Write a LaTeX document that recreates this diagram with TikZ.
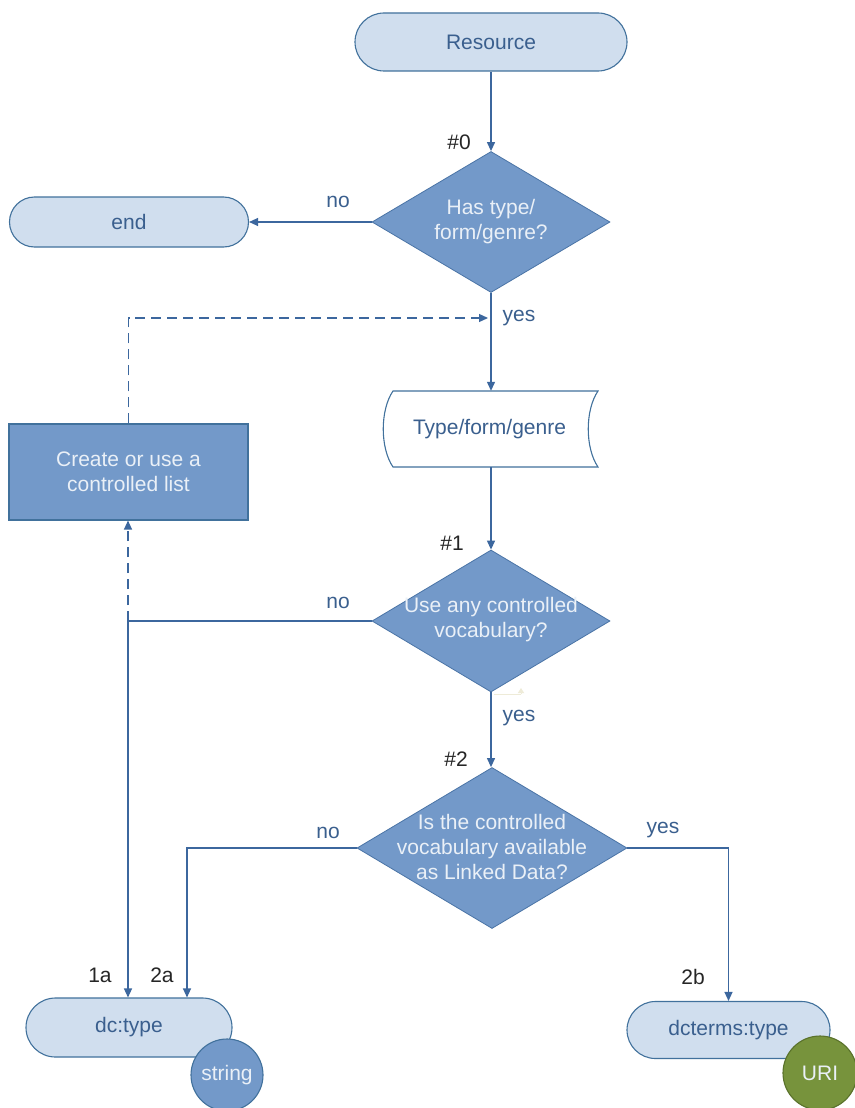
\documentclass[tikz,border=0pt]{standalone}
\usepackage{fontspec}
\setmainfont{Liberation Sans}
\usetikzlibrary{shapes.geometric,arrows.meta}
\definecolor{termfill}{HTML}{D0DEEE}
\definecolor{termline}{HTML}{41719C}
\definecolor{termtext}{HTML}{3A5F8E}
\definecolor{darkfill}{HTML}{7399C9}
\definecolor{darkline}{HTML}{4A74A6}
\definecolor{lighttext}{HTML}{EAF0F7}
\definecolor{conncol}{HTML}{3C679E}
\definecolor{urifill}{HTML}{77933C}
\definecolor{uriline}{HTML}{5A722B}
\definecolor{faint}{HTML}{EEEBD8}
\begin{document}
\begin{tikzpicture}[x=1pt,y=-1pt,
  font=\fontsize{21}{25}\selectfont,
  termbox/.style={draw=termline, fill=termfill, line width=1.1pt, text=termtext, inner sep=0pt},
  diam/.style={diamond, draw=darkline, fill=darkfill, line width=0.8pt, inner sep=0pt},
  dtext/.style={text=lighttext, align=center, inner sep=0pt},
  lbl/.style={text=black!85, inner sep=0pt},
  clbl/.style={text=termtext, inner sep=0pt},
  conn/.style={draw=conncol, line width=1.2pt, -{Triangle[length=9pt,width=8pt]}},
  plainconn/.style={draw=conncol, line width=1.2pt},
  dashconn/.style={draw=conncol, line width=1.2pt, dash pattern=on 10pt off 6pt, -{Triangle[length=9pt,width=8pt]}},
  blob/.style={circle, draw=termline, fill=darkfill, line width=1.1pt, text=lighttext, inner sep=0pt}
]
\useasboundingbox (0,0) rectangle (854,1108);
\fill[white] (0,0) rectangle (854,1108);

% nodes
\node[termbox, minimum width=272pt, minimum height=58pt, rounded corners=29pt] (res) at (491,42) {Resource};
\node[diam, minimum width=238pt, minimum height=141pt] (d0) at (491,222) {};
\node[dtext] at (491,222) {Has type/\\form/genre?};
\node[termbox, minimum width=239pt, minimum height=50pt, rounded corners=25pt] (end) at (129,222) {end};
\node[draw=termline, fill=darkfill, line width=1.1pt, text=lighttext, align=center, minimum width=239pt, minimum height=96pt, inner sep=0pt] (cl) at (128.5,472) {Create or use a\\controlled list};

% stored-data shape
\node[minimum width=216pt, minimum height=76pt, inner sep=0pt] (doc) at (490,429) {};
\draw[termline, line width=1.1pt, fill=white] (393,391) -- (598,391)
  .. controls (585,410) and (585,448) .. (598,467) -- (393,467)
  .. controls (380,448) and (380,410) .. (393,391) -- cycle;
\node[text=termtext, inner sep=0pt] at (489.5,429) {Type/form/genre};

\node[diam, minimum width=238pt, minimum height=142pt] (d1) at (491,621) {};
\node[dtext] at (491,620) {Use any controlled\\vocabulary?};
\node[diam, minimum width=270pt, minimum height=161pt] (d2) at (492,848) {};
\node[dtext] at (492,847) {Is the controlled\\vocabulary available\\as Linked Data?};

\node[termbox, minimum width=206pt, minimum height=59pt, rounded corners=29.5pt] (dc) at (129,1027.5) {dc:type};
\node[blob, minimum size=72pt] (str) at (227,1075) {string};
\node[termbox, minimum width=203pt, minimum height=57pt, rounded corners=28.5pt] (dct) at (728.5,1030) {dcterms:type};
\node[circle, draw=uriline, fill=urifill, line width=1.1pt, text=lighttext, inner sep=0pt, minimum size=74pt] (uri) at (820,1073) {URI};

% labels
\node[lbl] (l0) at (459,142) {\#0};
\node[lbl] (l1) at (452,543) {\#1};
\node[lbl] (l2) at (456,759) {\#2};
\node[clbl] (n0) at (338,202) {no};
\node[clbl] (y0) at (519,318) {yes};
\node[clbl] (n1) at (338,603) {no};
\node[clbl] (y1) at (519,718) {yes};
\node[clbl] (n2) at (328,833) {no};
\node[clbl] (y2) at (663,830) {yes};
\node[lbl] (a1) at (100,975) {1a};
\node[lbl] (a2) at (162,975) {2a};
\node[lbl] (b2) at (693,977) {2b};

% coordinates
\coordinate (dj) at (488,318);
\coordinate (c1) at (128,621);
\coordinate (x2a) at (187,0);

% connectors
\draw[conn] (res.south) -- (d0.north);
\draw[conn] (d0.west) -- (end.east);
\draw[conn] (d0.south) -- (d0.south |- doc.north);
\draw[dashconn] (cl.north) |- (dj);
\draw[conn] (d1.north |- doc.south) -- (d1.north);
\draw[plainconn] (d1.west) -- (c1);
\draw[conn] (c1) -- (c1 |- dc.north);
\draw[dashconn] (c1) -- (c1 |- cl.south);
\draw[conn] (d1.south) -- (d1.south |- d2.north);
\draw[conn] (d2.west) -| (x2a |- dc.north);
\draw[conn] (d2.east) -| (dct.north);

% faint artifact
\coordinate (fa) at (494,694);
\coordinate (fb) at (521,694);
\draw[faint, line width=1pt] (fa) -- (fb);
\draw[faint, line width=1pt, -{Triangle[length=5pt,width=6pt]}] (fb) -- ++(0,-6);
\end{tikzpicture}
\end{document}
